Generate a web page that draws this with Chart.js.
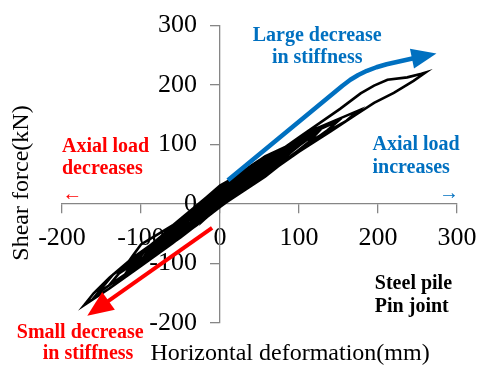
<!DOCTYPE html>
<html>
<head>
<meta charset="utf-8">
<script src="https://cdn.jsdelivr.net/npm/chart.js@4.4.0/dist/chart.umd.min.js"></script>
<style>
  html, body { margin: 0; padding: 0; background: #fff; }
</style>
</head>
<body>
<canvas id="chart" width="478" height="367"></canvas>
<script>
// Tick values
const xTicks = [-200, -100, 0, 100, 200, 300];
const yTicks = [-200, -100, 0, 100, 200, 300];

// Hysteresis path (mm / kN)
const deformation = [
  0,
  10, 20, 12, 0, -10, -20, -12, 0,
  10, 20, 10, 0, -10, -20, -10, 0,
  20, 40, 30, 0, -20, -40, -30, 0,
  20, 40, 30, 0, -20, -40, -30, 0,
  30, 60, 48, 0, -30, -60, -48, 0,
  30, 60, 48, 0, -30, -60, -48, 0,
  35, 70, 56, 0, -35, -70, -56, -25, 0,
  38, 75, 60, 0, -38, -75, -60, -28, 0,
  40, 80, 66, 0, -40, -80, -66, -30, 0,
  40, 80, 66, 0, -40, -80, -66, -30, 0,
  45, 90, 76, 40, 0, -45, -90, -76, -35, 0,
  48, 95, 80, 45, 0, -48, -95, -80, -45, 0,
  50, 100, 86, 50, 0, -50, -100, -86, -40, 0,
  50, 100, 86, 50, 0, -50, -100, -86, -40, 0,
  55, 110, 96, 55, 0, -55, -110, -96, -50, 0,
  57, 115, 100, 57, 0, -57, -115, -100, -55, 0,
  57, 100, 125, 112, 57, 0, -60, -120, -105, -60, 0,
  60, 100, 125, 112, 57, 0, -60, -125, -110, -100, -60, 0,
  60, 110, 150, 136, 100, 57, 0, -60, -100, -140, -125, -100, -60, 0,
  60, 120, 175, 160, 120, 70, 0, -70, -120, -155, -135, -120, -99, -70, -35, 0,
  57, 100, 152, 178, 195, 212, 237, 255, 260, 245, 220, 195, 173, 140, 100, 57, 0,
  -60, -100, -140, -172, -160, -140, -110, -70, -25
];
const shearForce = [
  0,
  14, 28, 14, -2, -14, -26, -8, 10,
  20, 30, 12, 3, -10, -24, -4, 14,
  34, 48, 34, -3, -26, -44, -24, 18,
  36, 50, 38, 5, -20, -42, -18, 22,
  46, 66, 50, -4, -36, -64, -38, 24,
  50, 68, 54, 8, -28, -60, -32, 26,
  52, 76, 58, 2, -38, -72, -46, -10, 20,
  56, 80, 62, 0, -42, -76, -50, -12, 16,
  60, 84, 64, -5, -44, -82, -54, -8, 28,
  62, 86, 70, 12, -36, -78, -48, -4, 29,
  64, 94, 78, 40, 6, -48, -90, -62, -14, 24,
  68, 98, 80, 44, -2, -52, -94, -64, -26, 20,
  70, 102, 84, 44, -5, -56, -102, -74, -16, 30,
  74, 106, 88, 52, 16, -46, -96, -68, -14, 30,
  78, 112, 96, 56, 10, -52, -106, -80, -28, 27,
  80, 116, 98, 52, 2, -60, -110, -84, -34, 24,
  72, 104, 122, 104, 46, -4, -66, -118, -88, -38, 31,
  76, 108, 124, 110, 56, 6, -58, -114, -86, -68, -36, 30,
  76, 116, 140, 124, 90, 48, -3, -64, -104, -136, -112, -82, -42, 28,
  74, 126, 157, 140, 110, 62, -2, -72, -118, -150, -118, -106, -82, -58, -16, 26,
  72, 112, 160, 186, 199, 209, 213, 219, 221, 207, 187, 170, 151, 122, 88, 48, -3,
  -66, -104, -142, -170, -150, -124, -90, -52, -6
];

// Annotation arrows, in data units
const stiffUpX = [10, 155, 165, 175, 186, 198, 211, 228, 245, 274];
const stiffUpY = [40, 199, 209, 217, 224, 230, 235, 240, 245, 253];
const stiffDownX = [-10, -168];
const stiffDownY = [-40, -188];

const serif = "'Liberation Serif', 'Times New Roman', serif";
const grey = "#868686";
const blue = "#0070C0";
const red = "#FF0000";
const yLabelGap = 23;

const points = deformation.map((v, i) => ({ x: v, y: shearForce[i] }));

function drawArrow(ctx, xs, ys, color, width, headLen, headHalf) {
  const n = xs.length;
  const tx = xs[n - 1], ty = ys[n - 1];
  const a = Math.atan2(ty - ys[n - 2], tx - xs[n - 2]);
  const c = Math.cos(a), s = Math.sin(a);
  ctx.strokeStyle = color;
  ctx.lineWidth = width;
  ctx.lineJoin = "round";
  ctx.beginPath();
  ctx.moveTo(xs[0], ys[0]);
  for (let i = 1; i < n - 1; i++) ctx.lineTo(xs[i], ys[i]);
  ctx.lineTo(tx - c * headLen * 0.8, ty - s * headLen * 0.8);
  ctx.stroke();
  const bx = tx - c * headLen, by = ty - s * headLen;
  ctx.fillStyle = color;
  ctx.beginPath();
  ctx.moveTo(tx, ty);
  ctx.lineTo(bx - s * headHalf, by + c * headHalf);
  ctx.lineTo(bx + s * headHalf, by - c * headHalf);
  ctx.closePath();
  ctx.fill();
}

const notes = {
  id: "notes",
  afterDraw(chart) {
    const { ctx, scales: { x, y } } = chart;
    const px = v => x.getPixelForValue(v);
    const py = v => y.getPixelForValue(v);
    ctx.save();

    drawArrow(ctx, stiffUpX.map(px), stiffUpY.map(py), blue, 4.5, 25, 10);
    drawArrow(ctx, stiffDownX.map(px), stiffDownY.map(py), red, 4, 26, 11);

    ctx.textBaseline = "middle";
    ctx.font = "bold 20px " + serif;

    ctx.fillStyle = blue;
    ctx.textAlign = "center";
    ctx.fillText("Large decrease", px(123), py(282.5));
    ctx.fillText("in stiffness", px(123), py(246));
    ctx.textAlign = "left";
    ctx.fillText("Axial load", px(193), py(99));
    ctx.fillText("increases", px(193), py(61));

    ctx.fillStyle = red;
    ctx.fillText("Axial load", px(-200), py(96));
    ctx.fillText("decreases", px(-200), py(59));
    ctx.textAlign = "center";
    ctx.fillText("Small decrease", px(-177), py(-216));
    ctx.fillText("in stiffness", px(-167), py(-251));

    ctx.fillStyle = "#000";
    ctx.textAlign = "left";
    ctx.fillText("Steel pile", px(196), py(-134));
    ctx.fillText("Pin joint", px(196), py(-172.5));

    ctx.font = "20px " + serif;
    ctx.textAlign = "center";
    ctx.fillStyle = red;
    ctx.fillText("\u2190", px(-187), py(16));
    ctx.fillStyle = blue;
    ctx.fillText("\u2192", px(290), py(17.5));

    // axis titles
    ctx.fillStyle = "#000";
    ctx.font = "24px " + serif;
    ctx.fillText("Horizontal deformation(mm)", 290, 354);
    ctx.translate(22, 183);
    ctx.rotate(-Math.PI / 2);
    ctx.fillText("Shear force(kN)", 0, 0);

    ctx.restore();
  }
};

const axisCommon = {
  type: "linear",
  min: -200,
  max: 300,
  grid: { drawOnChartArea: false, color: grey, tickLength: 9, lineWidth: 1.3 },
  border: { color: grey, width: 1.3 },
  ticks: { padding: 10, color: "#000", font: { family: serif, size: 26 }, maxRotation: 0, autoSkip: false }
};

new Chart(document.getElementById("chart"), {
  type: "scatter",
  data: {
    datasets: [{
      data: points,
      showLine: true,
      borderColor: "#000",
      borderWidth: 2.6,
      pointRadius: 0,
      tension: 0,
      fill: false
    }]
  },
  options: {
    responsive: false,
    animation: false,
    devicePixelRatio: 1,
    layout: { padding: { left: 62, right: 21, top: 22, bottom: 44 } },
    plugins: { legend: { display: false }, tooltip: { enabled: false } },
    scales: {
      x: Object.assign({}, axisCommon, {
        position: { y: 0 },
        afterBuildTicks: s => { s.ticks = xTicks.map(v => ({ value: v })); },
        // the end labels fit inside the layout padding, don't shrink the plot for them
        afterFit: s => { s.paddingLeft = 0; s.paddingRight = 0; }
      }),
      y: Object.assign({}, axisCommon, {
        position: { x: 0 },
        afterBuildTicks: s => { s.ticks = yTicks.map(v => ({ value: v })); },
        // labels of an axis pinned at x = 0 sit on the line, push them left
        afterUpdate: s => {
          const base = Object.getPrototypeOf(s)._computeLabelItems;
          s._computeLabelItems = function (area) {
            const items = base.call(this, area);
            items.forEach(it => { it.options.translation[0] -= yLabelGap; });
            return items;
          };
        }
      })
    }
  },
  plugins: [notes]
});
</script>
</body>
</html>
